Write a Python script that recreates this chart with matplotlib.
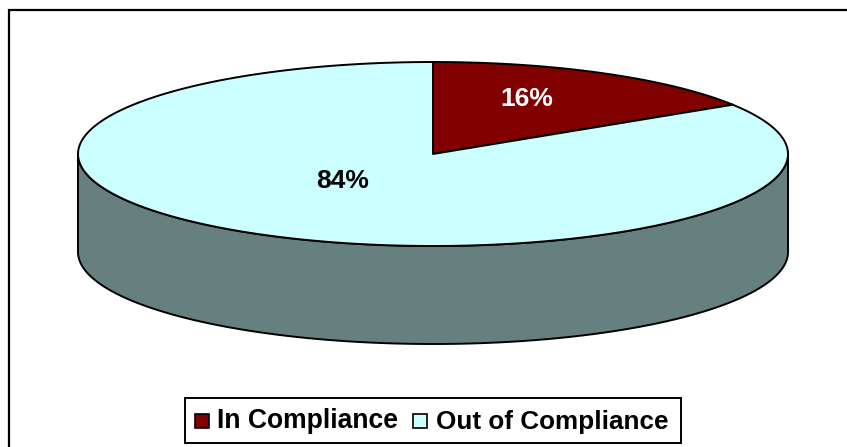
import numpy as np
import matplotlib
matplotlib.use('Agg')
import matplotlib.pyplot as plt
from matplotlib.patches import Polygon, Rectangle

labels = ['In Compliance', 'Out of Compliance']
shares = [16, 84]
colors = ['#800000', '#CCFFFF']
side_color = '#668080'

plt.rcParams['font.family'] = ['Liberation Sans', 'DejaVu Sans']

# pixel coordinates, same as the picture
fig = plt.figure(figsize=(8.47, 4.47), dpi=100)
ax = fig.add_axes([0, 0, 1, 1])
ax.set_xlim(0, 847)
ax.set_ylim(447, 0)
ax.axis('off')

cx, cy = 433, 154
rx, ry = 355, 92
depth = 98


def rim(t):
    return cx + rx * np.sin(t), cy - ry * np.cos(t)


# chart frame, only left and top edges are in the picture
ax.plot([8.5, 8.5, 847], [447, 9.5, 9.5], color='black', lw=1.6, solid_joinstyle='miter')

# side wall
t = np.linspace(np.pi / 2, 3 * np.pi / 2, 200)
x, y = rim(t)
side = np.r_[np.c_[x, y], np.c_[x[::-1], y[::-1] + depth]]
ax.add_patch(Polygon(side, closed=True, fc=side_color, ec='black', lw=1.4, joinstyle='round'))

# top slices
start = 0
total = sum(shares)
for share, color in zip(shares, colors):
    end = start + share / total * 2 * np.pi
    t = np.linspace(start, end, 200)
    x, y = rim(t)
    pts = np.r_[[[cx, cy]], np.c_[x, y]]
    ax.add_patch(Polygon(pts, closed=True, fc=color, ec='black', lw=1.4, joinstyle='round'))
    start = end

ax.text(527, 98.5, '%d%%' % shares[0], color='white', fontsize=19, fontweight='bold', ha='center', va='center')
ax.text(342.5, 180.5, '%d%%' % shares[1], color='black', fontsize=19, fontweight='bold', ha='center', va='center')

# legend
ax.add_patch(Rectangle((185, 397.5), 496, 45.5, fc='white', ec='black', lw=1.4))
ax.add_patch(Rectangle((194.5, 413.5), 14, 14, fc=colors[0], ec='black', lw=1.2))
ax.add_patch(Rectangle((413, 413.5), 14, 14, fc=colors[1], ec='black', lw=1.2))
ax.text(217, 421.5, labels[0], fontsize=19.1, fontweight='bold', ha='left', va='center')
ax.text(436, 421.5, labels[1], fontsize=18.8, fontweight='bold', ha='left', va='center')

fig.savefig('out.png', dpi=100)
